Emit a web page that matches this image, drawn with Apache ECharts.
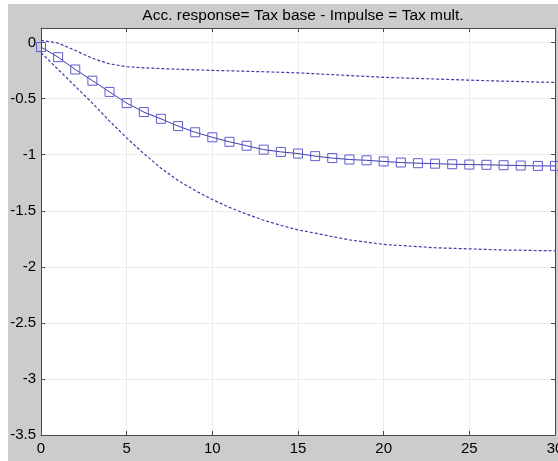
<!DOCTYPE html>
<html>
<head>
<meta charset="utf-8">
<script src="https://cdn.jsdelivr.net/npm/echarts@6/dist/echarts.min.js"></script>
<style>
html,body{margin:0;padding:0;background:#ffffff;}
#chart{width:558px;height:461px;}
</style>
</head>
<body>
<div id="chart"></div>
<script>
// Horizon (periods)
var periods = [0,1,2,3,4,5,6,7,8,9,10,11,12,13,14,15,16,17,18,19,20,21,22,23,24,25,26,27,28,29,30];
// Median accumulated response (solid line with squares)
var median = [-0.04,-0.13,-0.24,-0.34,-0.44,-0.54,-0.62,-0.68,-0.745,-0.80,-0.845,-0.885,-0.92,-0.955,-0.975,-0.99,-1.013,-1.03,-1.043,-1.05,-1.06,-1.07,-1.076,-1.08,-1.085,-1.088,-1.09,-1.094,-1.097,-1.1,-1.1];
// Upper band (dashed)
var upper = [0.02,-0.005,-0.07,-0.14,-0.19,-0.215,-0.225,-0.232,-0.238,-0.243,-0.248,-0.252,-0.256,-0.26,-0.265,-0.27,-0.278,-0.286,-0.294,-0.302,-0.31,-0.315,-0.32,-0.325,-0.33,-0.335,-0.34,-0.344,-0.348,-0.352,-0.355];
// Lower band (dashed)
var lower = [-0.09,-0.24,-0.39,-0.54,-0.70,-0.85,-0.99,-1.12,-1.23,-1.32,-1.40,-1.47,-1.53,-1.585,-1.63,-1.67,-1.70,-1.73,-1.76,-1.78,-1.80,-1.81,-1.82,-1.83,-1.835,-1.84,-1.845,-1.85,-1.852,-1.855,-1.857];
var xTicks = [0,5,10,15,20,25,30];
var yTicks = [0,-0.5,-1,-1.5,-2,-2.5,-3,-3.5];
var titleText = 'Acc. response= Tax base - Impulse = Tax mult.';

function pairs(ys){ return periods.map(function(x,i){ return [x, ys[i]]; }); }

var chart = echarts.init(document.getElementById('chart'), null, {renderer:'canvas'});
var font = 'Liberation Sans, Arial, sans-serif';
var axisLineStyle = {color:'#4a4a4a', width:1};
var option = {
  backgroundColor:'#ffffff',
  animation:false,
  graphic:[{type:'rect', z:-10, silent:true, shape:{x:8,y:4,width:550,height:457}, style:{fill:'#cccccc'}}],
  title:{text:titleText, left:298, top:3, textAlign:'center',
    textStyle:{fontFamily:font, fontSize:15.5, fontWeight:'normal', color:'#000'}},
  grid:{left:41, top:28, right:3, bottom:26, show:true, backgroundColor:'#ffffff', borderWidth:0,
    outerBoundsMode:'none', containLabel:false},
  xAxis:[{
    type:'value', min:0, max:30, interval:5,
    axisLine:{show:true, onZero:false, lineStyle:axisLineStyle},
    axisTick:{show:true, inside:true, length:4, lineStyle:axisLineStyle},
    axisLabel:{show:true, color:'#000', fontFamily:font, fontSize:15, margin:6,
      formatter:function(v){ return xTicks.indexOf(v) >= 0 ? String(v) : ''; }},
    splitLine:{show:true, lineStyle:{color:'#ececec', width:1}}
  },{
    type:'value', min:0, max:30, interval:5, position:'top',
    axisLine:{show:true, onZero:false, lineStyle:axisLineStyle},
    axisTick:{show:true, inside:true, length:4, lineStyle:axisLineStyle},
    axisLabel:{show:false}, splitLine:{show:false}
  }],
  yAxis:[{
    type:'value', min:-3.5, max:0.13, interval:0.5,
    axisLine:{show:true, onZero:false, lineStyle:axisLineStyle},
    axisTick:{show:true, inside:true, length:4, lineStyle:axisLineStyle},
    axisLabel:{show:true, color:'#000', fontFamily:font, fontSize:15, margin:5, showMaxLabel:false,
      formatter:function(v){
        for (var i=0;i<yTicks.length;i++){ if (Math.abs(v-yTicks[i])<1e-9) return String(yTicks[i]); }
        return '';
      }},
    splitLine:{show:true, lineStyle:{color:'#ececec', width:1}}
  },{
    type:'value', min:-3.5, max:0.13, interval:0.5, position:'right',
    axisLine:{show:true, onZero:false, lineStyle:axisLineStyle},
    axisTick:{show:true, inside:true, length:4, lineStyle:axisLineStyle},
    axisLabel:{show:false}, splitLine:{show:false}
  }],
  series:[
    {type:'line', name:'upper', data:pairs(upper), showSymbol:false, symbol:'none', smooth:false,
      lineStyle:{color:'#3c3ca8', width:1.2, type:[3,2]}},
    {type:'line', name:'lower', data:pairs(lower), showSymbol:false, symbol:'none', smooth:false,
      lineStyle:{color:'#3c3ca8', width:1.2, type:[3,2]}},
    {type:'line', name:'median', data:pairs(median), symbol:'rect', symbolSize:9, showSymbol:true,
      lineStyle:{color:'#3d3daa', width:1},
      itemStyle:{color:'rgba(0,0,0,0)', borderColor:'#5c5cd0', borderWidth:1}}
  ]
};
chart.setOption(option);
</script>
</body>
</html>
